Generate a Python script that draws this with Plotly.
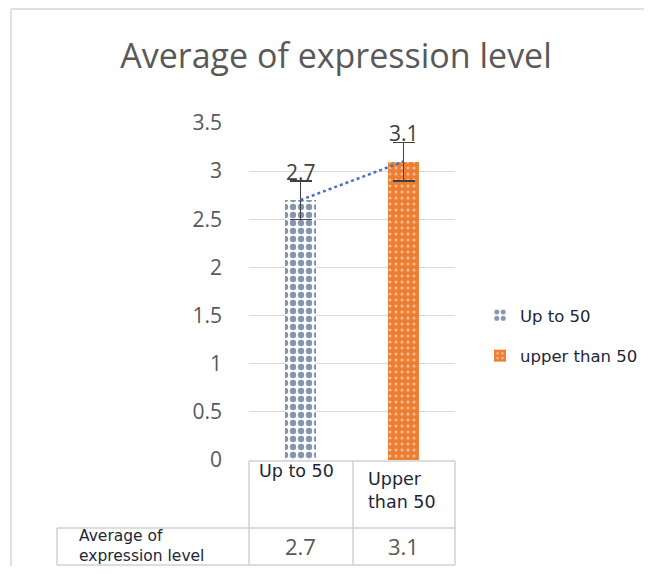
import plotly.graph_objects as go

# ---- data ----
categories = ["Up to 50", "Upper than 50"]
legend_names = ["Up to 50", "upper than 50"]
values = [2.7, 3.1]
errors = [0.2, 0.2]
table_row_label = "Average of expression level"
title_text = "Average of expression level"

# page has an 8px body margin; the figure is sized to fit inside the window
OX, OY = 8, 8
FW, FH = 636, 558


def px(x):
    return (x - OX) / FW


def py(y):
    return 1 - (y - OY) / FH


# plot area in window pixels
X0, X1 = 249, 455
Y0, Y1 = 123, 460

blue = "#0E2A5E"
orange = "#ED7D31"
grey_txt = "#595959"
dark_txt = "#1E2638"
line_c = "#D0D0D0"

fig = go.Figure()

fig.add_trace(go.Bar(
    x=[0], y=[values[0]], name=legend_names[0], width=0.31,
    marker=dict(color="white", line=dict(width=0),
                pattern=dict(shape=".", fgcolor=blue, size=8, solidity=0.5, fillmode="overlay")),
    error_y=dict(type="data", array=[errors[0]], color="#404040", thickness=1.5, width=11),
    legendgroup="a",
))
fig.add_trace(go.Bar(
    x=[1], y=[values[1]], name=legend_names[1], width=0.31,
    marker=dict(color=orange, line=dict(width=0),
                pattern=dict(shape=".", fgcolor="white", size=6, solidity=0.2, fillmode="overlay")),
    error_y=dict(type="data", array=[errors[1]], color="#404040", thickness=1.5, width=11),
    legendgroup="b",
))
# linear trend line through the bar tops
fig.add_trace(go.Scatter(
    x=[0, 1], y=values, mode="lines",
    line=dict(color="#4472C4", width=2.5, dash="dot"),
    showlegend=False, hoverinfo="skip",
))

annotations = []
# data labels above the bars
for i, v in enumerate(values):
    annotations.append(dict(x=i, y=v + errors[i], xref="x", yref="y", text=f"{v}",
                            showarrow=False, yanchor="middle", yshift=9,
                            font=dict(size=21, color="#404040", family="Open Sans")))

# table header cells
annotations.append(dict(x=px(296), y=py(471), xref="paper", yref="paper",
                        text=categories[0], showarrow=False, yanchor="middle",
                        font=dict(size=17.5, color=dark_txt, family="DejaVu Sans")))
annotations.append(dict(x=px(366), y=py(490), xref="paper", yref="paper",
                        text=categories[1].replace("Upper ", "Upper<br>"), showarrow=False,
                        xanchor="left", align="left", yanchor="middle",
                        font=dict(size=17.5, color=dark_txt, family="DejaVu Sans")))
# row label
annotations.append(dict(x=px(77), y=py(546), xref="paper", yref="paper",
                        text=table_row_label.replace("of ", "of<br>"), showarrow=False,
                        xanchor="left", align="left", yanchor="middle",
                        font=dict(size=15.5, color=dark_txt, family="DejaVu Sans")))
val_centers = [300, 403]
for i, v in enumerate(values):
    annotations.append(dict(x=px(val_centers[i]), y=py(546), xref="paper", yref="paper",
                            text=f"{v}", showarrow=False, yanchor="middle",
                            font=dict(size=22, color=grey_txt, family="Open Sans")))

shapes = []


def hline(x0, x1, y):
    shapes.append(dict(type="line", xref="paper", yref="paper", x0=px(x0), x1=px(x1),
                       y0=py(y), y1=py(y), line=dict(color=line_c, width=1.5)))


def vline(x, y0, y1):
    shapes.append(dict(type="line", xref="paper", yref="paper", x0=px(x), x1=px(x),
                       y0=py(y0), y1=py(y1), line=dict(color=line_c, width=1.5)))


hline(249, 455, 461)
hline(57, 455, 528)
hline(57, 455, 565)
vline(249, 461, 565)
vline(353, 461, 565)
vline(455, 461, 565)
vline(57, 528, 565)
# outer chart frame (top and left edges visible)
shapes.append(dict(type="line", xref="paper", yref="paper", x0=px(11), x1=px(700),
                   y0=py(9), y1=py(9), line=dict(color="#E0E0E0", width=2)))
shapes.append(dict(type="line", xref="paper", yref="paper", x0=px(11), x1=px(11),
                   y0=py(9), y1=py(700), line=dict(color="#E0E0E0", width=2)))

fig.update_layout(
    width=FW, height=FH,
    margin=dict(l=0, r=0, t=0, b=0, pad=0, autoexpand=False),
    paper_bgcolor="white", plot_bgcolor="white",
    title=dict(text=title_text, x=px(336), xanchor="center", y=py(56), yanchor="middle",
               font=dict(size=34, color=grey_txt, family="Open Sans")),
    xaxis=dict(domain=[px(X0), px(X1)], range=[-0.5, 1.5], showticklabels=False,
               showgrid=False, zeroline=False, showline=False, fixedrange=True,
               automargin=False),
    yaxis=dict(domain=[py(Y1), py(Y0)], range=[0, 3.5], dtick=0.5, tick0=0,
               showgrid=True, gridcolor="#D9D9D9", gridwidth=1.2, zeroline=False,
               showline=False, ticks="", ticklabelstandoff=26, automargin=False,
               tickfont=dict(size=21, color=grey_txt, family="Open Sans")),
    legend=dict(x=px(480), y=py(298), xanchor="left", yanchor="top",
                xref="container", yref="container",
                font=dict(size=16.5, color=dark_txt, family="DejaVu Sans"),
                tracegroupgap=16, bgcolor="rgba(0,0,0,0)"),
    showlegend=True,
    annotations=annotations,
    shapes=shapes,
    bargap=0,
)

fig.write_html("out.html")
